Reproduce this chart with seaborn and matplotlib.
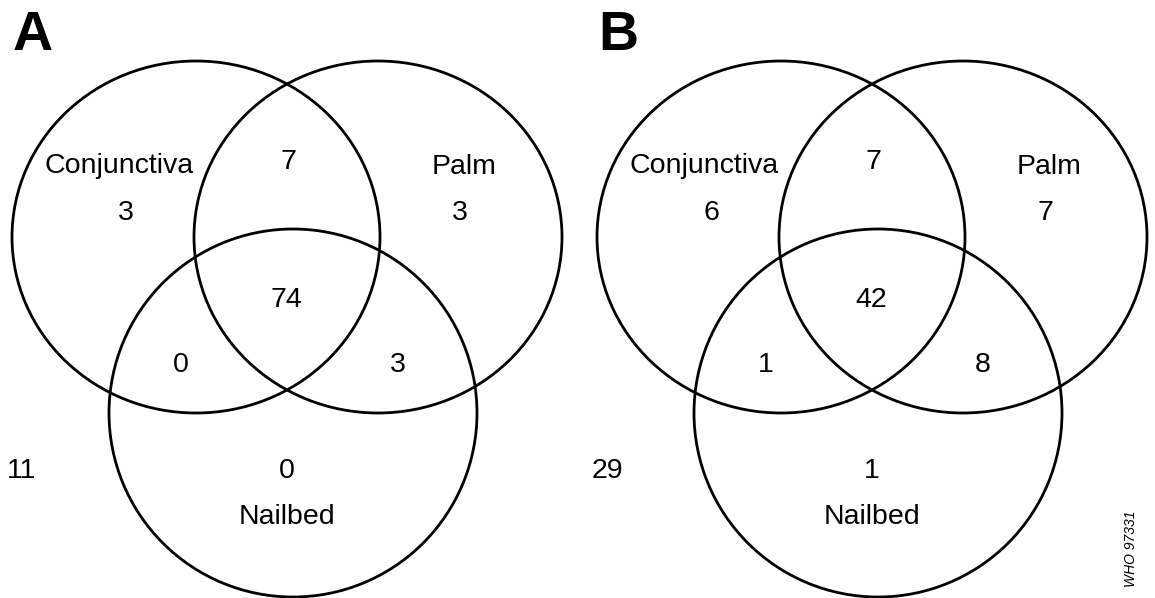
import matplotlib
matplotlib.use("Agg")
import matplotlib.pyplot as plt
from matplotlib.patches import Ellipse
import seaborn as sns

sns.set_style("white")
plt.rcParams["font.family"] = ["Liberation Sans", "DejaVu Sans"]
plt.rcParams["text.color"] = "black"

# counts per region, two panels
panels = ["A", "B"]
conj_only = [3, 6]
palm_only = [3, 7]
conj_palm = [7, 7]
all_three = [74, 42]
conj_nail = [0, 1]
palm_nail = [3, 8]
nail_only = [0, 1]
none = [11, 29]
set_names = ["Conjunctiva", "Palm", "Nailbed"]

W, H = 1155, 598
fig = plt.figure(figsize=(W / 100, H / 100), dpi=100)
ax = fig.add_axes([0, 0, 1, 1])
ax.set_xlim(0, W)
ax.set_ylim(H, 0)
ax.axis("off")

FS = 20.5
for i, p in enumerate(panels):
    dx = i * 585
    # circles: conjunctiva, palm, nailbed
    for cx, cy, rx, ry in [(196, 237, 184, 176), (378, 237, 184, 176), (293, 413, 184, 184)]:
        ax.add_patch(Ellipse((cx + dx, cy), 2 * rx, 2 * ry, fill=False,
                             edgecolor="black", linewidth=2.0))
    ax.text(13 + dx, 50, p, fontsize=40, fontweight="bold", ha="left", va="baseline")
    ax.text(119 + dx, 173, set_names[0], fontsize=FS, ha="center", va="baseline")
    ax.text(464 + dx, 174, set_names[1], fontsize=FS, ha="center", va="baseline")
    ax.text(287 + dx, 524, set_names[2], fontsize=FS, ha="center", va="baseline")
    ax.text(126 + dx, 220, str(conj_only[i]), fontsize=FS, ha="center", va="baseline")
    ax.text(460 + dx, 220, str(palm_only[i]), fontsize=FS, ha="center", va="baseline")
    ax.text(288 + dx, 169, str(conj_palm[i]), fontsize=FS, ha="center", va="baseline")
    ax.text(286 + dx, 307, str(all_three[i]), fontsize=FS, ha="center", va="baseline")
    ax.text(181 + dx, 372, str(conj_nail[i]), fontsize=FS, ha="center", va="baseline")
    ax.text(398 + dx, 372, str(palm_nail[i]), fontsize=FS, ha="center", va="baseline")
    ax.text(287 + dx, 478, str(nail_only[i]), fontsize=FS, ha="center", va="baseline")
    ax.text(22 + dx, 478, str(none[i]), fontsize=FS, ha="center", va="baseline")

ax.text(1131, 549, "WHO 97331", fontsize=10, style="italic", rotation=90,
        ha="center", va="center")

fig.savefig("out.png", dpi=100)
